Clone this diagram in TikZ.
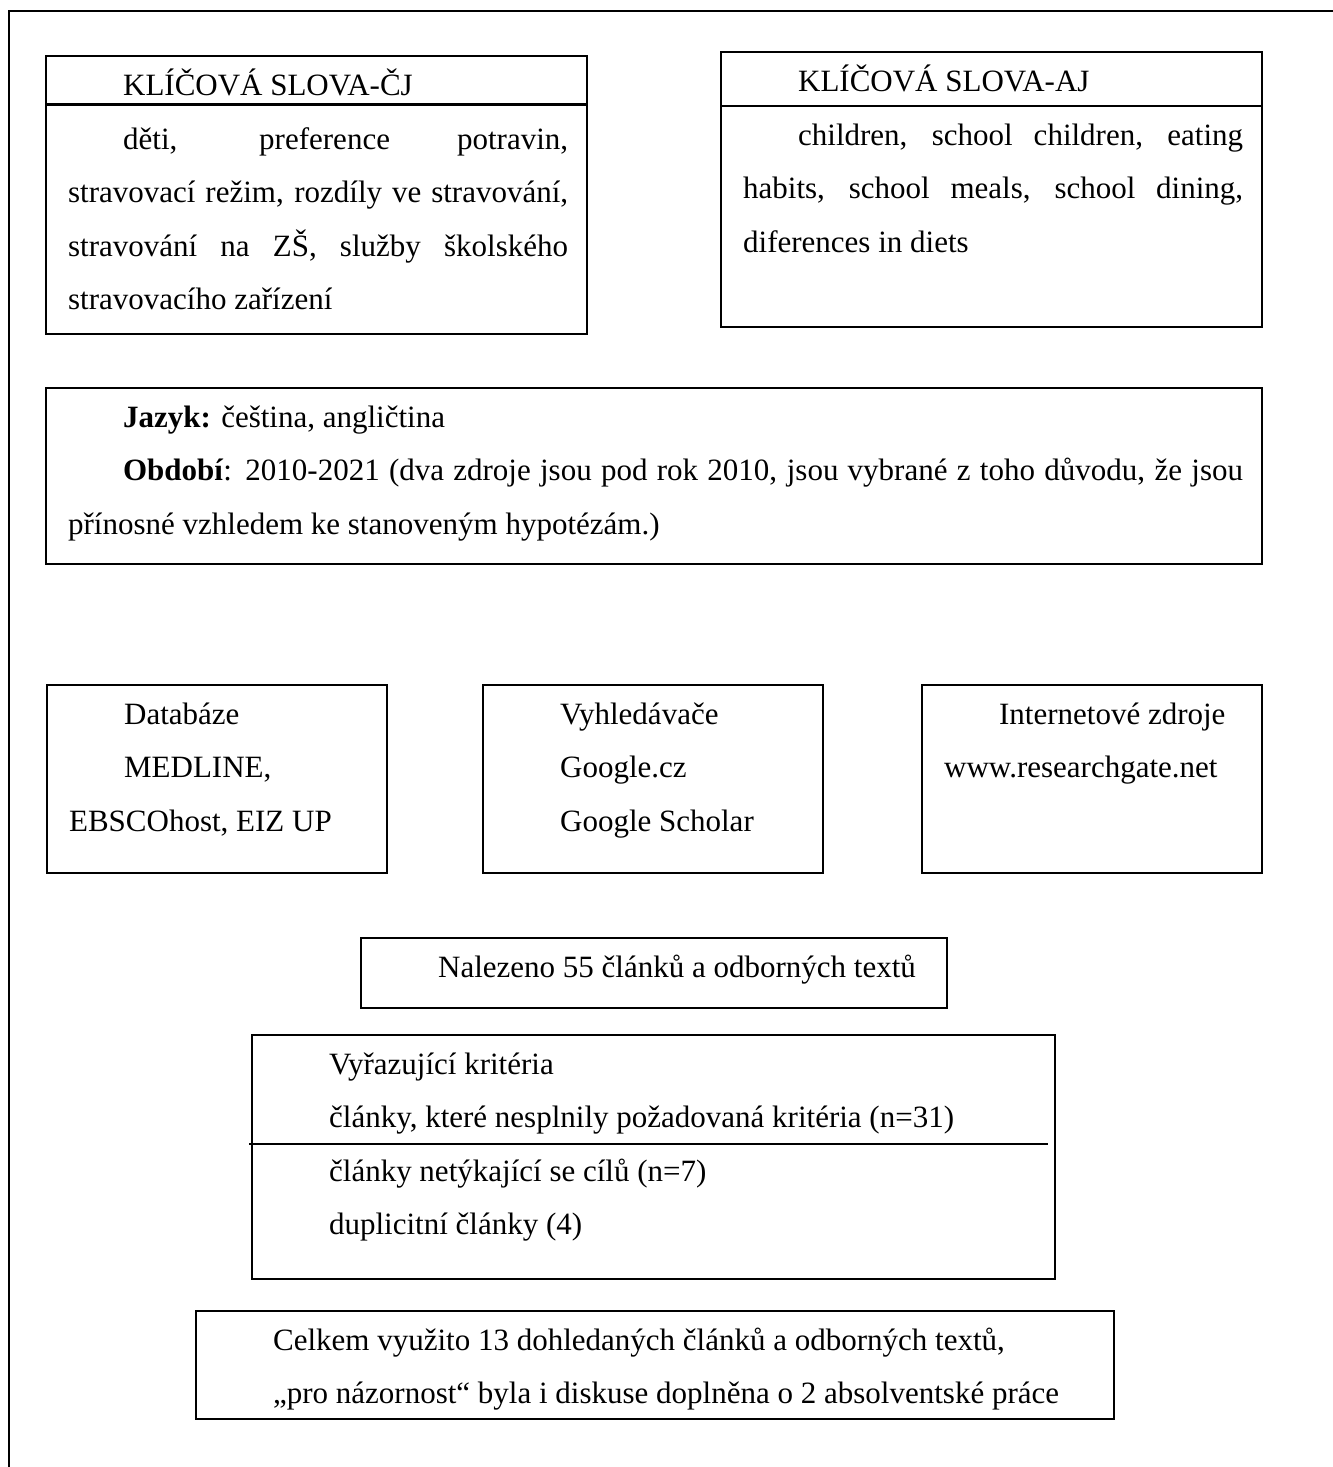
\documentclass[tikz,border=0pt]{standalone}
\usepackage{fontspec}
\setmainfont{Liberation Serif}
\usepackage{tikz}

\begin{document}
\begin{tikzpicture}[x=0.4pt, y=-0.4pt, line width=0.9pt]
    \tikzset{box/.style 2 args={
      draw, rectangle, anchor=north west, inner sep=0pt, outer sep=0pt,
      minimum width=#1*0.4pt, minimum height=#2*0.4pt}}
    \tikzset{txt/.style={
      anchor=base west, inner sep=0pt, align=justify,
      text width=#1*0.4pt, font=\fontsize{12.4}{21.4}\selectfont,
      execute at begin node={\setlength{\parindent}{22pt}}}}

    \useasboundingbox (0, 0) rectangle (1333, 1467);

    % Frame
    \draw (9, 1467) -- (9, 11) -- (1333, 11);

    % Keywords
    \node [box={541}{278}] (kwcz) at (46, 56) {};
    \draw ([yshift=-19.4pt]kwcz.north west) -- ([yshift=-19.4pt]kwcz.north east);
    \node [txt=500] (kwczHead) at (67, 95) {\indent KLÍČOVÁ SLOVA-ČJ};
    \node [txt=500] (kwczText) at (67, 149)
          {\indent děti, preference potravin,\linebreak
           stravovací režim, rozdíly ve stravování,\linebreak
           stravování na ZŠ, služby školského\linebreak
           stravovacího zařízení};

    \node [box={541}{275}] (kwaj) at (721, 52) {};
    \draw ([yshift=-21.6pt]kwaj.north west) -- ([yshift=-21.6pt]kwaj.north east);
    \node [txt=500] (kwajHead) at (742, 91) {\indent KLÍČOVÁ SLOVA-AJ};
    \node [txt=500] (kwajText) at (742, 145)
          {\indent children, school children, eating\linebreak
           habits, school meals, school dining,\linebreak
           diferences in diets};

    % Language and period
    \node [box={1216}{176}] (lang) at (46, 388) {};
    \node [txt=1175] (langText) at (67, 427)
          {\indent\textbf{Jazyk:} čeština, angličtina\par
           \textbf{Období}: 2010-2021 (dva zdroje jsou pod rok 2010, jsou
           vybrané z toho důvodu, že jsou\linebreak
           přínosné vzhledem ke stanoveným hypotézám.)};

    % Sources
    \node [box={340}{188}] (db) at (47, 685) {};
    \node [txt=299] (dbText) at (68, 724)
          {\indent Databáze\par MEDLINE,\newline EBSCOhost, EIZ UP};

    \node [box={340}{188}] (search) at (483, 685) {};
    \node [txt=299] (searchText) at (504, 724)
          {\indent Vyhledávače\par Google.cz\par Google Scholar};

    \node [box={340}{188}] (web) at (922, 685) {};
    \node [txt=299] (webText) at (943, 724)
          {\indent Internetové zdroje\newline www.researchgate.net};

    % Selection
    \node [box={586}{70}] (found) at (361, 938) {};
    \node [txt=545] (foundText) at (382, 977)
          {\indent Nalezeno 55 článků a odborných textů};

    \node [box={803}{244}] (excl) at (252, 1035) {};
    \draw (249, 1144) -- (1048, 1144);
    \node [txt=762] (exclText) at (273, 1074)
          {\indent Vyřazující kritéria\par
           články, které nesplnily požadovaná kritéria (n=31)\par
           články netýkající se cílů (n=7)\par
           duplicitní články (4)};

    \node [box={918}{108}] (total) at (196, 1311) {};
    \node [txt=877] (totalText) at (217, 1350)
          {\indent Celkem využito 13 dohledaných článků a odborných textů,\par
           „pro názornost“ byla i diskuse doplněna o 2 absolventské práce};
\end{tikzpicture}
\end{document}
